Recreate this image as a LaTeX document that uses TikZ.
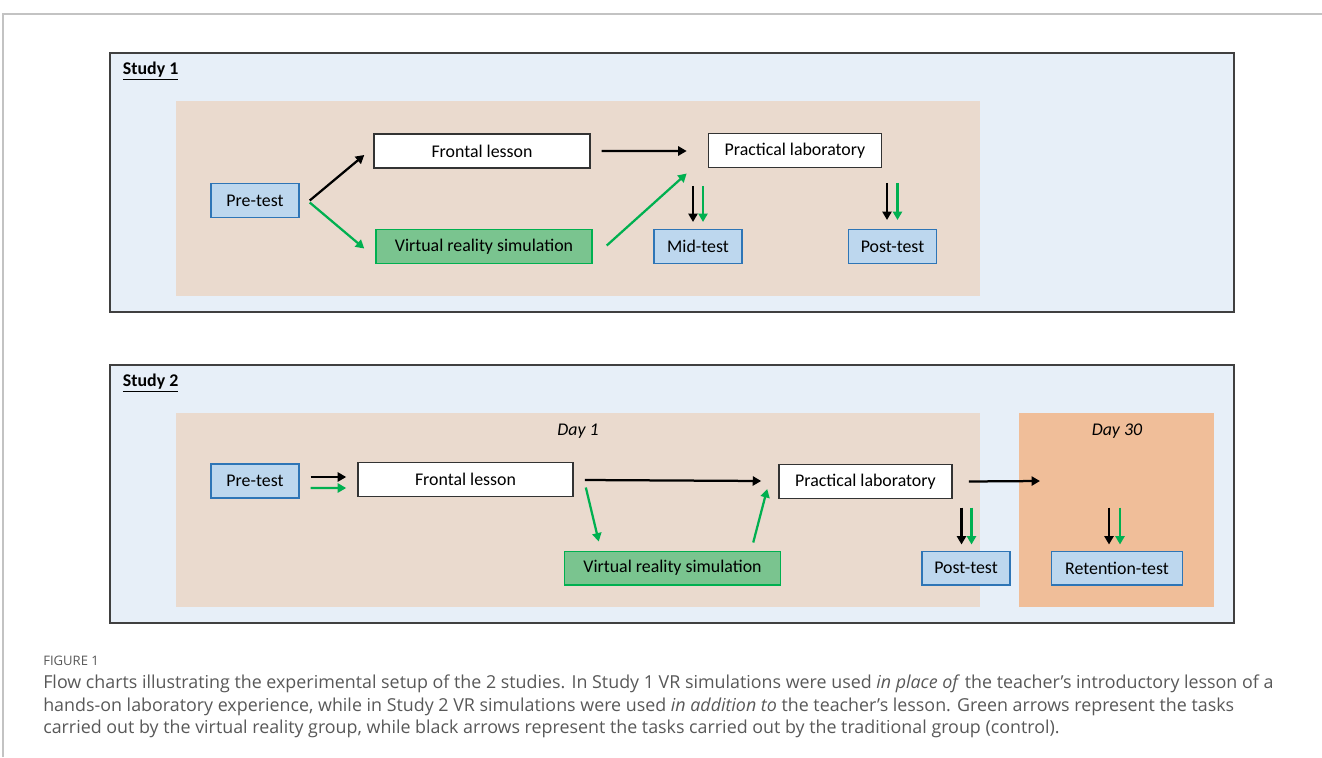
\documentclass[tikz,border=0pt]{standalone}
\usepackage{fontspec}
\setmainfont{Carlito}
\newfontfamily\capfont{Open Sans}
\usetikzlibrary{arrows.meta,calc,positioning}

\definecolor{panelblue}{RGB}{231,239,248}
\definecolor{daybeige}{RGB}{234,218,206}
\definecolor{dayorange}{RGB}{240,190,153}
\definecolor{testfill}{RGB}{189,215,238}
\definecolor{testline}{RGB}{46,117,182}
\definecolor{vrfill}{RGB}{122,196,143}
\definecolor{vrgreen}{RGB}{0,176,80}
\definecolor{capgray}{RGB}{88,88,88}
\definecolor{rulegray}{RGB}{195,195,195}

\begin{document}
\begin{tikzpicture}[x=0.025cm, y=-0.025cm, font=\fontsize{12.7}{15}\selectfont]
  \tikzset{
    panel/.style = {draw=black!75, line width=1.2pt, fill=panelblue},
    testbox/.style = {draw=testline, line width=1pt, fill=testfill,
      minimum width=2.2cm, minimum height=0.84cm, inner sep=0pt},
    taskbox/.style = {draw=black!80, line width=1pt, fill=white,
      minimum height=0.84cm, inner sep=0pt},
    vrbox/.style = {draw=vrgreen, line width=1pt, fill=vrfill,
      minimum width=5.4cm, minimum height=0.84cm, inner sep=0pt},
    blk/.style = {line width=1.6pt, -{Triangle[length=6pt,width=6.5pt]}},
    grn/.style = {blk, draw=vrgreen}
  }
  \useasboundingbox (0,0) rectangle (1322,757);
  \draw[rulegray, line width=1pt] (3,757) -- (3,14) -- (1322,14);

  % Study 1
  \draw[panel] (110,53) rectangle (1234,312);
  \fill[daybeige] (176,101) rectangle (980,296);
  \node[anchor=west] (s1) at (118,71) {\underline{\textbf{Study 1}}};

  \node[testbox] (pre1) at (255,200.5) {Pre-test};
  \node[taskbox, minimum width=5.4cm] (fl1) at (482,151) {Frontal lesson};
  \node[vrbox] (vr1) at (484,246.5) {Virtual reality simulation};
  \node[taskbox, minimum width=4.33cm] (pl1) at (795,150.5) {Practical laboratory};
  \node[testbox] (mid1) at (698,246.5) {Mid-test};
  \node[testbox] (post1) at (892.5,246.5) {Post-test};

  \draw[blk] ($(pre1.east)+(10,0)$) -- ($(fl1.west)+(-9,4)$);
  \draw[grn] ($(pre1.east)+(10,2)$) -- ($(vr1.west)+(-11,2)$);
  \draw[blk] ($(fl1.east)+(11,0)$) -- ($(pl1.west)+(-21,0.5)$);
  \draw[grn] ($(vr1.east)+(14,-1)$) -- ($(pl1.west)+(-21,23)$);
  \draw[blk] ($(mid1.north)+(-5,-43)$) -- ($(mid1.north)+(-5,-7)$);
  \draw[grn] ($(mid1.north)+(5,-43)$) -- ($(mid1.north)+(5,-7)$);
  \draw[blk] ($(post1.north)+(-5.5,-46)$) -- ($(post1.north)+(-5.5,-9)$);
  \draw[grn] ($(post1.north)+(5,-46)$) -- ($(post1.north)+(5,-9)$);

  % Study 2
  \draw[panel] (110,365) rectangle (1234,623);
  \fill[daybeige] (176,413) rectangle (980,607);
  \fill[dayorange] (1019,413) rectangle (1214,607);
  \node[anchor=west] (s2) at (118,383) {\underline{\textbf{Study 2}}};
  \node (day1) at (578,431) {\textit{Day 1}};
  \node (day30) at (1117,431) {\textit{Day 30}};

  \node[testbox] (pre2) at (255,481) {Pre-test};
  \node[taskbox, minimum width=5.38cm] (fl2) at (465.5,479.5) {Frontal lesson};
  \node[vrbox] (vr2) at (672.5,568) {Virtual reality simulation};
  \node[taskbox, minimum width=4.33cm] (pl2) at (865.5,481.5) {Practical laboratory};
  \node[testbox] (post2) at (966,568) {Post-test};
  \node[testbox, minimum width=3.28cm] (ret2) at (1117,568) {Retention-test};
  \coordinate (d30in) at (1040,481);

  \draw[blk] ($(pre2.east)+(11,-4)$) -- ($(fl2.west)+(-11,-2.5)$);
  \draw[grn] ($(pre2.east)+(11,7)$) -- ($(fl2.west)+(-11,8.5)$);
  \draw[blk] ($(fl2.east)+(11,0.5)$) -- ($(pl2.west)+(-17,-0.5)$);
  \draw[grn] ($(fl2.east)+(12,8)$) -- ($(vr2.north west)+(35,-9)$);
  \draw[grn] ($(vr2.north east)+(-28,-8)$) -- ($(pl2.west)+(-11,7.5)$);
  \draw[blk] ($(pl2.east)+(16,0)$) -- (d30in);
  \draw[blk] ($(post2.north)+(-4.5,-43)$) -- ($(post2.north)+(-4.5,-6)$);
  \draw[grn] ($(post2.north)+(5.5,-43)$) -- ($(post2.north)+(5.5,-6)$);
  \draw[blk] ($(ret2.north)+(-8,-43)$) -- ($(ret2.north)+(-8,-6)$);
  \draw[grn] ($(ret2.north)+(3,-43)$) -- ($(ret2.north)+(3,-6)$);

  % caption
  \node[anchor=west, inner sep=0pt, text=capgray, font=\capfont\fontsize{9.3}{11}\selectfont]
    (fig) at (43,661) {FIGURE 1};
  \node[anchor=north west, inner sep=0pt, text=capgray, align=left,
    font=\capfont\fontsize{12.7}{16}\selectfont] (cap) at (43,675)
    {Flow charts illustrating the experimental setup of the 2 studies. In Study 1 VR simulations were used \textit{in place of} the teacher’s introductory lesson of a\\
     hands-on laboratory experience, while in Study 2 VR simulations were used \textit{in addition to} the teacher’s lesson. Green arrows represent the tasks\\
     carried out by the virtual reality group, while black arrows represent the tasks carried out by the traditional group (control).};
\end{tikzpicture}
\end{document}
